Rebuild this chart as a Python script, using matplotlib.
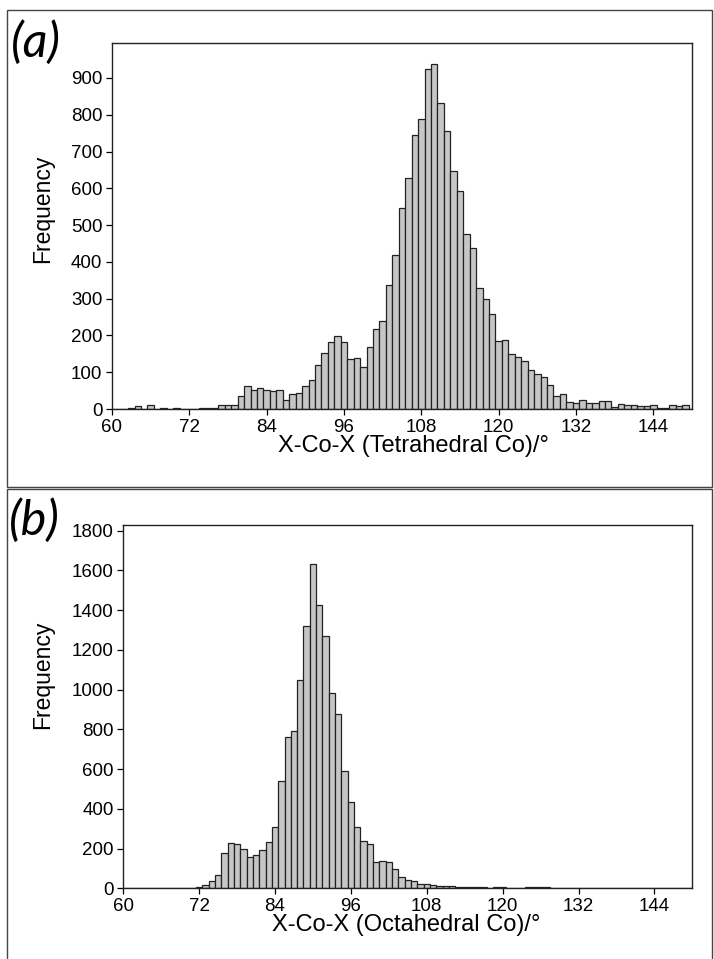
import matplotlib
matplotlib.use('Agg')
import matplotlib.pyplot as plt
from matplotlib.patches import Rectangle

plt.rcParams['font.family'] = ['Liberation Sans', 'DejaVu Sans']

# bin centres (degrees), 1 degree bins
angles = list(range(60, 151))

freq_tetra = [
    0, 0, 0, 3, 7, 0, 11, 0, 2, 0,            # 60-69
    2, 0, 0, 0, 2, 2, 2, 10, 10, 10,          # 70-79
    34, 62, 51, 58, 52, 49, 52, 25, 41, 44,   # 80-89
    62, 79, 120, 153, 181, 198, 183, 135, 140, 115,   # 90-99
    169, 217, 240, 337, 420, 546, 629, 746, 788, 925,  # 100-109
    937, 831, 757, 648, 594, 476, 439, 330, 299, 258,  # 110-119
    184, 188, 150, 142, 131, 105, 95, 86, 64, 35,      # 120-129
    41, 20, 17, 24, 17, 17, 21, 21, 5, 14,             # 130-139
    11, 11, 7, 7, 12, 3, 3, 12, 8, 12,                 # 140-149
    0,                                                 # 150
]

freq_octa = [
    0, 0, 0, 0, 0, 0, 0, 0, 0, 0,             # 60-69
    0, 3, 8, 16, 35, 65, 178, 230, 224, 197,  # 70-79
    159, 166, 192, 235, 310, 540, 762, 789, 1049, 1320,   # 80-89
    1634, 1426, 1270, 982, 876, 592, 435, 310, 240, 223,  # 90-99
    130, 138, 133, 97, 59, 42, 35, 23, 23, 15,           # 100-109
    12, 12, 12, 6, 6, 6, 6, 6, 0, 8,                     # 110-119
    8, 0, 0, 0, 7, 7, 7, 7, 0, 0,                        # 120-129
    0, 0, 0, 0, 0, 0, 0, 0, 0, 0,                        # 130-139
    0, 0, 0, 0, 0, 0, 0, 0, 0, 0,                        # 140-149
    0,                                                   # 150
]

xticks = [60, 72, 84, 96, 108, 120, 132, 144]

W, H = 714, 959
fig = plt.figure(figsize=(W / 100, H / 100), dpi=100)

# panel frames
fig.add_artist(Rectangle((7 / W, 1 - 487 / H), 705 / W, 477 / H,
                         transform=fig.transFigure, fill=False, ec='#444444', lw=1))
fig.add_artist(Rectangle((7 / W, -0.01), 705 / W, 1 - 489 / H + 0.01,
                         transform=fig.transFigure, fill=False, ec='#444444', lw=1))


def draw_panel(box, freq, ymax, yticks, xlabel, tag, tag_xy, ylab_xy, xlab_xy):
    # box = (left, top, right, bottom) in pixels
    l, t, r, b = box
    ax = fig.add_axes([l / W, 1 - b / H, (r - l) / W, (b - t) / H])
    ax.bar(angles, freq, width=1.0, color='#c6c6c6', edgecolor='#222222', linewidth=0.9)
    ax.set_xlim(60, 150)
    ax.set_ylim(0, ymax)
    ax.set_xticks(xticks)
    ax.set_yticks(yticks)
    ax.tick_params(direction='out', length=4.5, width=0.9, labelsize=13.5, pad=2.5,
                   top=False, right=False)
    for s in ax.spines.values():
        s.set_linewidth(1.0)
        s.set_color('#222222')
    fig.text(ylab_xy[0] / W, 1 - ylab_xy[1] / H, 'Frequency', fontsize=16.5,
             rotation=90, ha='center', va='center')
    fig.text(xlab_xy[0] / W, 1 - xlab_xy[1] / H, xlabel, fontsize=17,
             ha='center', va='center')
    fig.text(tag_xy[0] / W, 1 - tag_xy[1] / H, tag, fontsize=35,
             family=['Lato', 'DejaVu Sans'], style='italic', va='top', ha='left')
    return ax


draw_panel((112, 43, 692, 409), freq_tetra, 995, range(0, 901, 100),
           'X-Co-X (Tetrahedral Co)/°', '(a)', (11, 20), (43, 209), (413, 446))
draw_panel((123.3, 525, 692.3, 888.3), freq_octa, 1828, range(0, 1801, 200),
           'X-Co-X (Octahedral Co)/°', '(b)', (9, 498), (43, 675), (406, 925))

fig.savefig('out.png', dpi=100)
